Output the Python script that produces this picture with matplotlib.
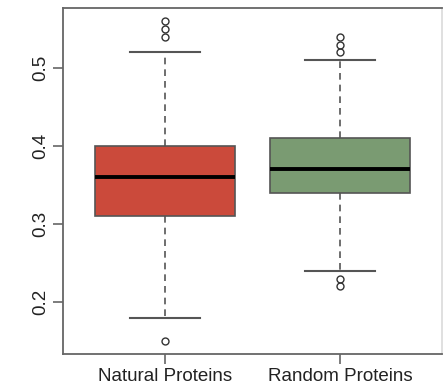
import matplotlib
matplotlib.use("Agg")
import matplotlib.pyplot as plt

plt.rcParams['font.family'] = ['Liberation Sans', 'DejaVu Sans']

# box statistics
labels = ["Natural Proteins", "Random Proteins"]
q1 = [0.31, 0.34]
med = [0.36, 0.37]
q3 = [0.40, 0.41]
whislo = [0.18, 0.24]
whishi = [0.52, 0.51]
fliers = [[0.54, 0.55, 0.56, 0.15], [0.52, 0.53, 0.54, 0.22, 0.23]]
colors = ["#CB4A3B", "#7A9B72"]

stats = []
for i in range(len(labels)):
    stats.append(dict(label=labels[i], q1=q1[i], med=med[i], q3=q3[i],
                      whislo=whislo[i], whishi=whishi[i], fliers=fliers[i]))

fig = plt.figure(figsize=(4.44, 3.88), dpi=100)
ax = fig.add_axes([63 / 444, 34 / 388, 379 / 444, 346 / 388])

edge = "#555555"
bp = ax.bxp(stats, positions=[1, 2], widths=0.8, patch_artist=True,
            boxprops=dict(edgecolor=edge, linewidth=1.2),
            medianprops=dict(color="black", linewidth=2.8),
            whiskerprops=dict(color=edge, linestyle=(0, (4, 3)), linewidth=1.2),
            capprops=dict(color=edge, linewidth=1.5),
            capwidths=0.4,
            flierprops=dict(marker="o", markerfacecolor="none",
                            markeredgecolor="#333333", markersize=5, markeredgewidth=1.0))
for patch, c in zip(bp["boxes"], colors):
    patch.set_facecolor(c)

ax.set_xlim(0.42, 2.58)
ax.set_ylim(0.1333, 0.577)
ax.set_yticks([0.2, 0.3, 0.4, 0.5])
ax.set_yticklabels(["0.2", "0.3", "0.4", "0.5"], rotation=90, va="center")
ax.set_xticks([1, 2])
ax.set_xticklabels(labels)

for s in ax.spines.values():
    s.set_color("#666666")
    s.set_linewidth(1.3)
ax.spines["right"].set_color("#dddddd")
ax.tick_params(direction="out", length=7, width=1.2, color="#666666",
               labelsize=13.5, labelcolor="#222222", pad=3)

fig.savefig("out.png", dpi=100)
